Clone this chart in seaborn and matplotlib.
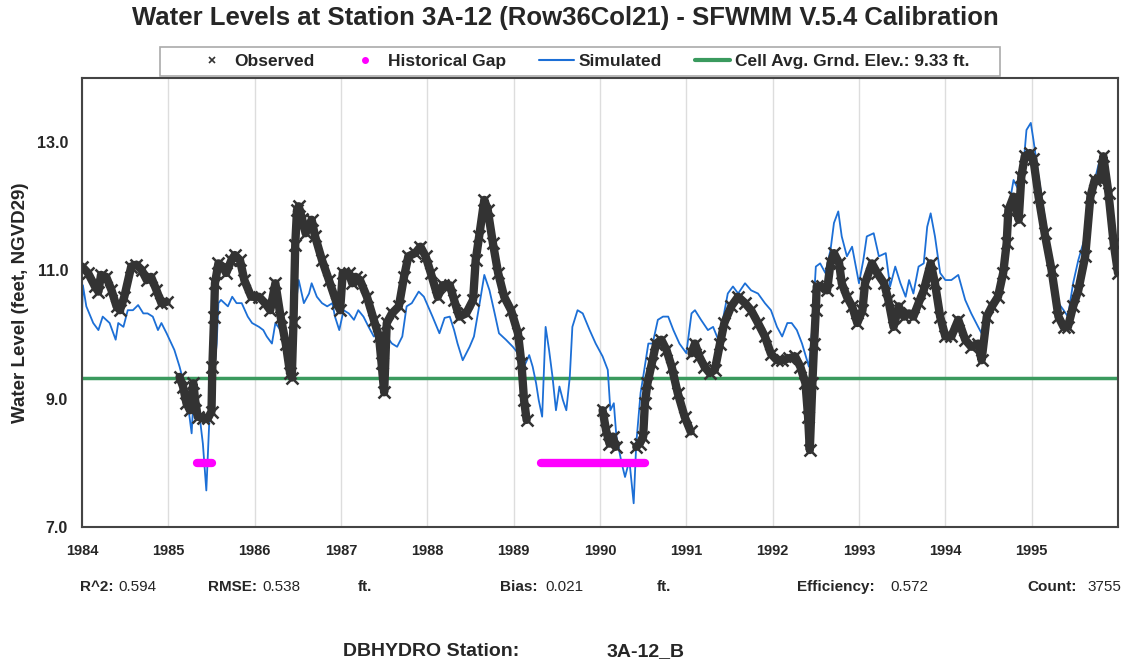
import matplotlib
matplotlib.use("Agg")
import matplotlib.pyplot as plt
from matplotlib.lines import Line2D
from matplotlib.patches import Rectangle
from matplotlib.ticker import MultipleLocator
import numpy as np
import pandas as pd
import seaborn as sns

nan = np.nan

# observed stage (nan = break in the record)
obs_year = [
    1984.00, 1984.07, 1984.15, 1984.19, 1984.22, 1984.28, 1984.34, 1984.40, 1984.44, 1984.49,
    1984.57, 1984.63, 1984.69, 1984.75, 1984.80, 1984.86, 1984.92, 1984.98, nan,
    1985.13, 1985.17, 1985.21, 1985.25, 1985.29, 1985.31, 1985.34, 1985.40, 1985.46, 1985.50,
    1985.51, 1985.53, 1985.54, 1985.58, 1985.63, 1985.67, 1985.73, 1985.77, 1985.83, 1985.88,
    1985.96, 1986.05, 1986.12, 1986.18, 1986.24, 1986.30, 1986.36, 1986.41, 1986.43, 1986.45,
    1986.47, 1986.49, 1986.51, 1986.55, 1986.59, 1986.66, 1986.70, 1986.78, 1986.86, 1986.95,
    1986.99, 1987.02, 1987.09, 1987.13, 1987.17, 1987.22, 1987.30, 1987.38, 1987.44, 1987.47,
    1987.50, 1987.53, 1987.59, 1987.67, 1987.73, 1987.78, 1987.86, 1987.92, 1987.98, 1988.04,
    1988.12, 1988.18, 1988.26, 1988.31, 1988.37, 1988.45, 1988.53, 1988.56, 1988.60, 1988.66,
    1988.70, 1988.76, 1988.82, 1988.89, 1988.97, 1989.05, 1989.09, 1989.12, 1989.15, nan,
    1990.03, 1990.07, 1990.11, 1990.15, 1990.18, nan,
    1990.42, 1990.46, 1990.50, 1990.52, 1990.55, 1990.60, 1990.65, 1990.71, 1990.77, 1990.83,
    1990.90, 1990.98, 1991.05, nan,
    1991.06, 1991.10, 1991.15, 1991.21, 1991.27, 1991.33, 1991.39, 1991.44, 1991.52, 1991.60,
    1991.68, 1991.75, 1991.83, 1991.91, 1991.98, 1992.05, 1992.11, 1992.19, 1992.26, 1992.32,
    1992.38, 1992.41, 1992.43, 1992.46, 1992.48, 1992.50, 1992.51, 1992.57, 1992.63, 1992.67,
    1992.71, 1992.77, 1992.80, 1992.86, 1992.92, 1992.98, 1993.04, 1993.07, 1993.15, 1993.21,
    1993.29, 1993.34, 1993.40, 1993.46, 1993.52, 1993.58, 1993.63, 1993.69, 1993.75, 1993.83,
    1993.88, 1993.94, 1994.00, 1994.07, 1994.15, 1994.23, 1994.30, 1994.38, 1994.42, 1994.48,
    1994.54, 1994.61, 1994.67, 1994.71, 1994.73, 1994.79, 1994.85, 1994.88, 1994.92, 1994.98,
    1995.02, 1995.08, 1995.15, 1995.23, 1995.31, 1995.37, 1995.42, 1995.48, 1995.54, 1995.62,
    1995.68, 1995.73, 1995.79, 1995.83, 1995.89, 1995.95, 1996.00,
]
obs_level = [
    11.06, 10.96, 10.75, 10.67, 10.93, 10.90, 10.70, 10.44, 10.38, 10.59,
    11.06, 11.09, 11.01, 10.85, 10.90, 10.70, 10.49, 10.51, nan,
    9.34, 9.19, 8.93, 8.82, 9.24, 8.98, 8.72, 8.70, 8.70, 8.80,
    9.50, 10.28, 10.80, 11.11, 11.06, 10.96, 11.16, 11.24, 11.16, 10.85,
    10.59, 10.59, 10.49, 10.38, 10.80, 10.28, 9.86, 9.40, 9.33, 10.20,
    11.40, 11.94, 12.00, 11.80, 11.58, 11.79, 11.53, 11.16, 10.85, 10.49,
    10.38, 10.96, 10.96, 10.80, 10.90, 10.85, 10.59, 10.23, 9.97, 9.55,
    9.10, 10.18, 10.33, 10.44, 10.90, 11.22, 11.27, 11.37, 11.22, 10.96,
    10.59, 10.77, 10.77, 10.54, 10.28, 10.33, 10.54, 11.16, 11.53, 12.10,
    11.94, 11.42, 10.96, 10.59, 10.38, 10.02, 9.55, 8.98, 8.67, nan,
    8.82, 8.51, 8.30, 8.41, 8.25, nan,
    8.25, 8.30, 8.41, 8.93, 9.24, 9.55, 9.86, 9.92, 9.76, 9.50,
    9.09, 8.72, 8.49, nan,
    9.71, 9.86, 9.66, 9.50, 9.40, 9.45, 9.86, 10.18, 10.44, 10.59,
    10.49, 10.38, 10.18, 9.97, 9.70, 9.60, 9.60, 9.63, 9.66, 9.50,
    9.24, 8.72, 8.20, 9.24, 9.86, 10.38, 10.75, 10.75, 10.69, 11.11,
    11.27, 11.11, 10.80, 10.59, 10.44, 10.18, 10.38, 10.80, 11.11, 10.96,
    10.80, 10.54, 10.12, 10.44, 10.28, 10.33, 10.28, 10.49, 10.69, 11.11,
    10.80, 10.28, 9.97, 9.97, 10.23, 9.92, 9.81, 9.86, 9.60, 10.28,
    10.44, 10.59, 10.96, 11.42, 11.94, 12.15, 11.79, 12.46, 12.78, 12.83,
    12.73, 12.15, 11.58, 11.01, 10.28, 10.12, 10.12, 10.44, 10.69, 11.22,
    12.15, 12.41, 12.41, 12.78, 12.20, 11.42, 10.96,
]

# SFWMM simulated stage
sim_year = [
    1984.00, 1984.01, 1984.05, 1984.13, 1984.19, 1984.24, 1984.32, 1984.39, 1984.42, 1984.48,
    1984.53, 1984.59, 1984.65, 1984.71, 1984.76, 1984.82, 1984.88, 1984.92, 1984.98, 1985.07,
    1985.13, 1985.19, 1985.23, 1985.27, 1985.30, 1985.34, 1985.40, 1985.44, 1985.48, 1985.52,
    1985.56, 1985.58, 1985.61, 1985.65, 1985.69, 1985.74, 1985.79, 1985.85, 1985.92, 1985.97,
    1986.05, 1986.10, 1986.14, 1986.20, 1986.24, 1986.30, 1986.36, 1986.43, 1986.47, 1986.51,
    1986.57, 1986.63, 1986.66, 1986.72, 1986.78, 1986.84, 1986.90, 1986.93, 1986.98, 1987.03,
    1987.09, 1987.15, 1987.20, 1987.26, 1987.32, 1987.38, 1987.44, 1987.49, 1987.53, 1987.59,
    1987.65, 1987.71, 1987.76, 1987.82, 1987.90, 1987.96, 1988.06, 1988.14, 1988.20, 1988.26,
    1988.31, 1988.35, 1988.41, 1988.49, 1988.54, 1988.60, 1988.66, 1988.72, 1988.78, 1988.83,
    1988.91, 1988.99, 1989.05, 1989.12, 1989.18, 1989.22, 1989.26, 1989.29, 1989.33, 1989.37,
    1989.41, 1989.45, 1989.49, 1989.53, 1989.57, 1989.61, 1989.65, 1989.68, 1989.74, 1989.80,
    1989.88, 1989.95, 1990.03, 1990.09, 1990.12, 1990.16, 1990.19, 1990.25, 1990.29, 1990.34,
    1990.39, 1990.42, 1990.47, 1990.50, 1990.56, 1990.61, 1990.67, 1990.73, 1990.79, 1990.85,
    1990.92, 1991.00, 1991.06, 1991.10, 1991.17, 1991.25, 1991.31, 1991.37, 1991.43, 1991.48,
    1991.54, 1991.60, 1991.68, 1991.75, 1991.83, 1991.91, 1991.98, 1992.05, 1992.11, 1992.17,
    1992.22, 1992.28, 1992.34, 1992.42, 1992.46, 1992.50, 1992.55, 1992.61, 1992.67, 1992.71,
    1992.76, 1992.80, 1992.86, 1992.92, 1993.00, 1993.05, 1993.09, 1993.17, 1993.23, 1993.31,
    1993.36, 1993.42, 1993.48, 1993.54, 1993.58, 1993.63, 1993.69, 1993.75, 1993.79, 1993.83,
    1993.88, 1993.94, 1994.00, 1994.07, 1994.15, 1994.23, 1994.30, 1994.38, 1994.42, 1994.48,
    1994.54, 1994.61, 1994.67, 1994.73, 1994.79, 1994.85, 1994.90, 1994.94, 1994.99, 1995.02,
    1995.08, 1995.15, 1995.23, 1995.31, 1995.37, 1995.42, 1995.48, 1995.54, 1995.62, 1995.68,
    1995.73, 1995.79, 1995.83, 1995.89, 1995.95, 1996.00,
]
sim_level = [
    10.33, 10.77, 10.44, 10.18, 10.07, 10.28, 10.18, 9.92, 10.18, 10.12,
    10.38, 10.38, 10.46, 10.33, 10.33, 10.28, 10.07, 10.18, 10.02, 9.76,
    9.50, 9.19, 8.88, 8.46, 9.24, 8.98, 8.30, 7.57, 8.82, 9.29,
    9.86, 10.49, 10.54, 10.49, 10.44, 10.59, 10.49, 10.49, 10.28, 10.18,
    10.12, 10.07, 9.97, 9.86, 10.18, 10.07, 9.97, 9.71, 10.38, 10.85,
    10.49, 10.64, 10.80, 10.59, 10.49, 10.44, 10.49, 10.28, 10.07, 10.38,
    10.33, 10.23, 10.38, 10.28, 10.12, 9.97, 10.02, 9.86, 9.97, 9.86,
    9.81, 9.97, 10.44, 10.49, 10.67, 10.59, 10.28, 10.02, 10.26, 10.28,
    10.07, 9.86, 9.60, 9.81, 9.97, 10.44, 10.93, 10.69, 10.33, 10.02,
    9.92, 9.81, 9.71, 9.50, 9.68, 9.50, 9.24, 8.98, 8.72, 10.12,
    9.76, 9.34, 8.82, 9.19, 8.98, 8.82, 9.34, 10.12, 10.38, 10.33,
    10.07, 9.86, 9.66, 9.45, 8.82, 8.93, 8.41, 8.00, 7.78, 8.04,
    7.37, 8.30, 9.09, 9.34, 9.86, 9.86, 10.23, 10.28, 10.28, 10.07,
    9.86, 9.71, 10.33, 10.38, 10.23, 10.07, 10.12, 9.92, 10.28, 10.64,
    10.75, 10.64, 10.80, 10.69, 10.64, 10.49, 10.38, 10.12, 9.97, 10.18,
    10.18, 10.07, 9.86, 9.50, 10.12, 11.06, 11.11, 10.96, 11.32, 11.74,
    11.92, 11.53, 11.22, 11.37, 10.80, 11.16, 11.53, 11.58, 11.22, 11.27,
    10.75, 11.06, 10.80, 10.59, 10.85, 10.64, 11.06, 11.11, 11.68, 11.89,
    11.53, 10.96, 10.85, 10.85, 10.93, 10.54, 10.33, 10.12, 10.02, 10.38,
    10.44, 10.69, 11.16, 11.94, 12.41, 12.25, 12.57, 13.19, 13.30, 13.04,
    12.46, 11.84, 11.16, 10.49, 10.38, 10.28, 10.80, 11.16, 11.53, 12.20,
    12.41, 12.73, 12.78, 12.31, 11.53, 11.22,
]

# historical gap periods (plotted at 8.0 ft)
gap_year = [1985.33, 1985.51, nan, 1989.32, 1990.52]
gap_level = [8.0, 8.0, nan, 8.0, 8.0]

ground_elev = 9.33
year_ticks = list(range(1984, 1996))
y_ticks = [7.0, 9.0, 11.0, 13.0]

sns.set_style("white")
plt.rcParams['font.family'] = ['Liberation Sans', 'DejaVu Sans']

obs_col = '#333333'
sim_col = '#1c6fd6'
gnd_col = '#3a9a5e'
gap_col = '#ff00ff'

W, H = 1129, 663
fig = plt.figure(figsize=(W / 100, H / 100), dpi=100)
ax = fig.add_axes([82 / W, 1 - 527 / H, 1036 / W, 449 / H])

obs = pd.DataFrame({'year': obs_year, 'level': obs_level})
obs['seg'] = obs['level'].isna().cumsum()
obs = obs.dropna()

gap = pd.DataFrame({'year': gap_year, 'level': gap_level})
gap['seg'] = gap['level'].isna().cumsum()
gap = gap.dropna()

ax.axhline(ground_elev, color=gnd_col, lw=2.5, zorder=1)
sns.lineplot(x=sim_year, y=sim_level, color=sim_col, lw=1.3, ax=ax, zorder=2)
sns.lineplot(data=obs, x='year', y='level', units='seg', estimator=None,
             color=obs_col, lw=6, marker='x', markersize=8, mew=1.8,
             mec=obs_col, mfc=obs_col, ax=ax, legend=False, zorder=3)
sns.lineplot(data=gap, x='year', y='level', units='seg', estimator=None,
             color=gap_col, lw=6, solid_capstyle='round', ax=ax, legend=False, zorder=4)

ax.set_xlim(1984, 1996)
ax.set_ylim(7.0, 14.0)
ax.set_xticks(year_ticks)
ax.set_xticklabels([str(y) for y in year_ticks], fontweight='bold', fontsize=10.5)
ax.xaxis.set_minor_locator(MultipleLocator(1 / 12))
ax.set_yticks(y_ticks)
ax.set_yticklabels([f'{v:.1f}' for v in y_ticks], fontweight='bold', fontsize=11.5)
ax.yaxis.set_minor_locator(MultipleLocator(0.4))
ax.tick_params(which='major', direction='out', length=5, width=1, color='#555555')
ax.tick_params(which='minor', direction='out', length=3, width=0.8, color='#777777')
ax.tick_params(axis='x', pad=7)
ax.tick_params(axis='y', pad=5)
ax.grid(axis='x', which='major', color='#dddddd', lw=1)
ax.set_xlabel('')
ax.set_ylabel('')
for s in ax.spines.values():
    s.set_color('#444444')
    s.set_linewidth(1.5)

fig.text(21 / W, 1 - 303 / H, 'Water Level (feet, NGVD29)', rotation=90,
         ha='center', va='center', fontweight='bold', fontsize=13.5)

fig.text(565 / W, 1 - 18 / H, 'Water Levels at Station 3A-12 (Row36Col21) - SFWMM V.5.4 Calibration',
         ha='center', va='center', fontweight='bold', fontsize=18.5)

# legend box above the axes
fig.patches.append(Rectangle((160 / W, 1 - 76 / H), 840 / W, 29 / H, transform=fig.transFigure,
                             facecolor='white', edgecolor='#aaaaaa', lw=1.2, zorder=0))
handles = [
    Line2D([], [], ls='none', marker='x', color=obs_col, ms=5, mew=1.2),
    Line2D([], [], ls='none', marker='o', color=gap_col, ms=4),
    Line2D([], [], color=sim_col, lw=1.5),
    Line2D([], [], color=gnd_col, lw=3),
]
labels = ['Observed', 'Historical Gap', 'Simulated', 'Cell Avg. Grnd. Elev.: 9.33 ft.']
fig.legend(handles, labels, loc='center', bbox_to_anchor=(582 / W, 1 - 61.5 / H),
           ncol=4, frameon=False, prop={'weight': 'bold', 'size': 12.5},
           handlelength=2.0, handletextpad=0.3, columnspacing=1.9)

# calibration statistics row
stat_y = 1 - 587 / H
stats_row = [
    (80, 'R^2:', 'bold'), (118, '0.594', 'normal'),
    (208, 'RMSE:', 'bold'), (262, '0.538', 'normal'), (358, 'ft.', 'bold'),
    (500, 'Bias:', 'bold'), (545, '0.021', 'normal'), (657, 'ft.', 'bold'),
    (797, 'Efficiency:', 'bold'), (890, '0.572', 'normal'),
    (1027, 'Count:', 'bold'), (1087, '3755', 'normal'),
]
for px, txt, wt in stats_row:
    fig.text(px / W, stat_y, txt, ha='left', va='center', fontweight=wt, fontsize=11)

fig.text(343 / W, 1 - 652 / H, 'DBHYDRO Station:', ha='left', va='center',
         fontweight='bold', fontsize=14)
fig.text(685 / W, 1 - 652 / H, '3A-12_B', ha='right', va='center',
         fontweight='bold', fontsize=14)

fig.savefig('out.png', dpi=100)
